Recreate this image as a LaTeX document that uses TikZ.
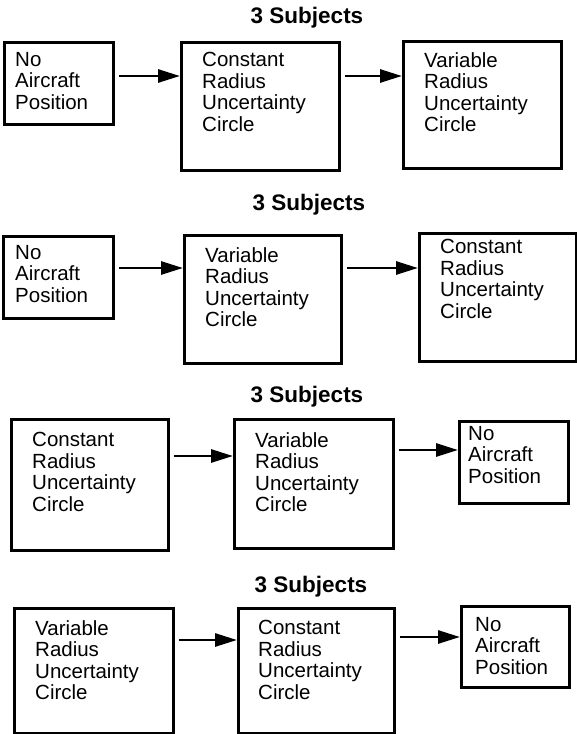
\documentclass[tikz,border=0pt]{standalone}
\usepackage{fontspec}
\setmainfont{Liberation Sans}
\usetikzlibrary{positioning,arrows.meta}

\begin{document}
\begin{tikzpicture}[x=1pt, y=-1pt]
    \useasboundingbox (0,0) rectangle (577,734);

    % Shapes
    \tikzstyle{box}=[rectangle, draw, line width=2.8pt, inner sep=0pt, anchor=north west]
    \tikzstyle{txt}=[inner sep=0pt, align=left, font=\fontsize{20.5}{21.5}\selectfont]
    \tikzstyle{heading}=[anchor=base, font=\fontsize{22.5}{24}\selectfont\bfseries]
    \tikzstyle{flow}=[line width=2.8pt, -{Triangle[length=22pt, width=13pt]}, shorten <=4pt]

    % Arrow heights
    \coordinate (row1) at (0,76);
    \coordinate (row2) at (0,268);
    \coordinate (row3a) at (0,456);
    \coordinate (row3b) at (0,450);
    \coordinate (row4a) at (0,640);
    \coordinate (row4b) at (0,637);

    % Order 1
    \node[heading] (title1) at (307,23) {3 Subjects};
    \node[box, minimum width=109pt, minimum height=82pt] (b11) at (3,41) {};
    \node[box, minimum width=158pt, minimum height=128pt] (b12) at (180,41) {};
    \node[box, minimum width=158pt, minimum height=127pt] (b13) at (402,40) {};
    \node[txt, below right=11pt and 12pt of b11.north west] (t11) {No\\Aircraft\\Position};
    \node[txt, below right=11pt and 22pt of b12.north west] (t12) {Constant\\Radius\\Uncertainty\\Circle};
    \node[txt, below right=12pt and 22pt of b13.north west] (t13) {Variable\\Radius\\Uncertainty\\Circle};
    \draw[flow] (b11.east |- row1) -- (b12.west |- row1);
    \draw[flow] (b12.east |- row1) -- (b13.west |- row1);

    % Order 2
    \node[heading] (title2) at (309,210) {3 Subjects};
    \node[box, minimum width=110pt, minimum height=82pt] (b21) at (2,235) {};
    \node[box, minimum width=157pt, minimum height=128pt] (b22) at (183,234) {};
    \node[box, minimum width=157pt, minimum height=128pt] (b23) at (418,232) {};
    \node[txt, below right=10pt and 13pt of b21.north west] (t21) {No\\Aircraft\\Position};
    \node[txt, below right=13pt and 22pt of b22.north west] (t22) {Variable\\Radius\\Uncertainty\\Circle};
    \node[txt, below right=7pt and 22pt of b23.north west] (t23) {Constant\\Radius\\Uncertainty\\Circle};
    \draw[flow] (b21.east |- row2) -- (b22.west |- row2);
    \draw[flow] (b22.east |- row2) -- (b23.west |- row2);

    % Order 3
    \node[heading] (title3) at (307,402) {3 Subjects};
    \node[box, minimum width=157pt, minimum height=131pt] (b31) at (10,418) {};
    \node[box, minimum width=159pt, minimum height=129pt] (b32) at (233,418) {};
    \node[box, minimum width=109pt, minimum height=82pt] (b33) at (458,420) {};
    \node[txt, below right=14pt and 22pt of b31.north west] (t31) {Constant\\Radius\\Uncertainty\\Circle};
    \node[txt, below right=14pt and 22pt of b32.north west] (t32) {Variable\\Radius\\Uncertainty\\Circle};
    \node[txt, below right=6pt and 10pt of b33.north west] (t33) {No\\Aircraft\\Position};
    \draw[flow] (b31.east |- row3a) -- (b32.west |- row3a);
    \draw[flow] (b32.east |- row3b) -- (b33.west |- row3b);

    % Order 4
    \node[heading] (title4) at (311,592) {3 Subjects};
    \node[box, minimum width=159pt, minimum height=125pt] (b41) at (13,607) {};
    \node[box, minimum width=156pt, minimum height=125pt] (b42) at (237,607) {};
    \node[box, minimum width=108pt, minimum height=81pt] (b43) at (460,605) {};
    \node[txt, below right=13pt and 22pt of b41.north west] (t41) {Variable\\Radius\\Uncertainty\\Circle};
    \node[txt, below right=13pt and 21pt of b42.north west] (t42) {Constant\\Radius\\Uncertainty\\Circle};
    \node[txt, below right=12pt and 15pt of b43.north west] (t43) {No\\Aircraft\\Position};
    \draw[flow] (b41.east |- row4a) -- (b42.west |- row4a);
    \draw[flow] (b42.east |- row4b) -- (b43.west |- row4b);
\end{tikzpicture}
\end{document}
